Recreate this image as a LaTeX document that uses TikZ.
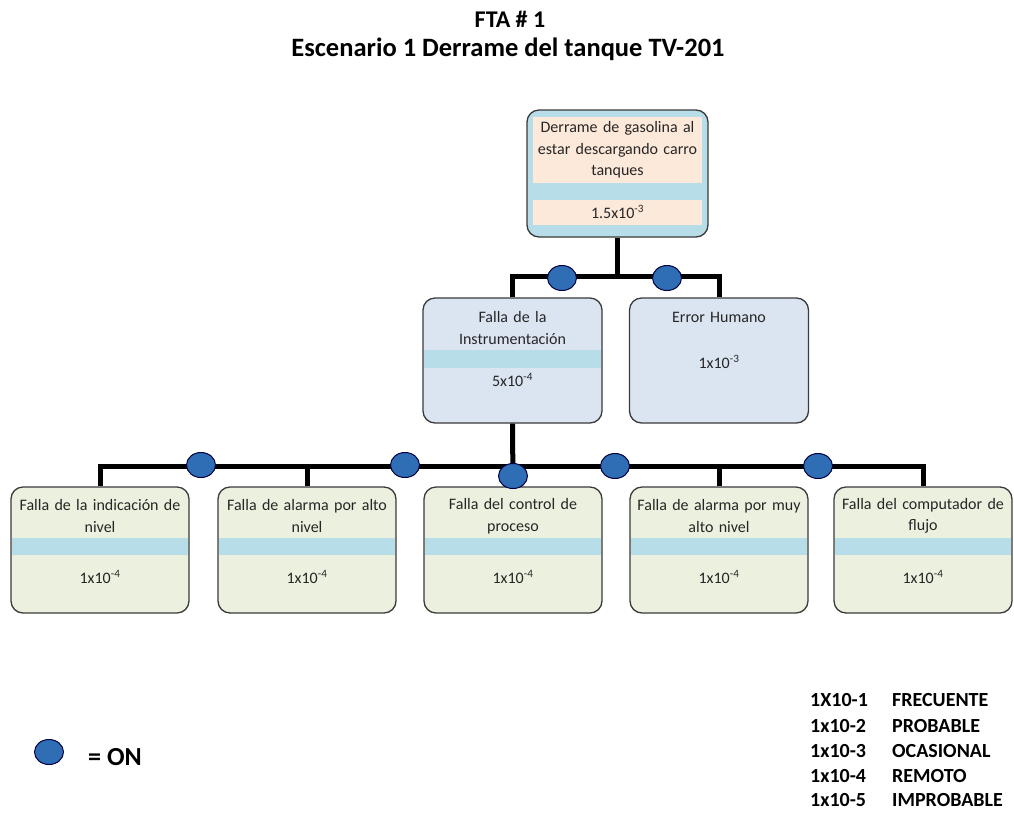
\documentclass[tikz,border=0pt]{standalone}
\usepackage{fontspec}
\setmainfont{Carlito}
\usetikzlibrary{calc}
\usetikzlibrary{shapes.geometric}

\definecolor{bandblue}{HTML}{B7DDE8}
\definecolor{lavblue}{HTML}{DBE5F1}
\definecolor{palegreen}{HTML}{EBF1DE}
\definecolor{peach}{HTML}{FDE9D9}
\definecolor{oncirc}{HTML}{2F6DB5}
\definecolor{boxline}{HTML}{3A3A3A}

\tikzset{
	evbox/.style={draw=boxline, line width=1.3pt, rounded corners=12pt, minimum width=178pt, minimum height=126pt, inner sep=0pt},
	band/.style={fill=bandblue},
	evtext/.style={text width=178pt, align=center, inner sep=0pt, text=black!85, font=\fontsize{16}{21.5}\selectfont},
	gate/.style={ellipse, draw=black!75!blue, line width=1pt, fill=oncirc, minimum width=29pt, minimum height=25pt, inner sep=0pt},
	link/.style={line width=5pt},
	legtext/.style={anchor=west, inner sep=0pt, font=\fontsize{20}{24}\bfseries\selectfont},
}

\begin{document}
\begin{tikzpicture}[x=1pt, y=-1pt]
		\useasboundingbox (0,0) rectangle (1014,815);
		% titles
		\node[font=\fontsize{24}{28}\bfseries\selectfont] (fta) at (510,19) {FTA \# 1};
		\node[font=\fontsize{26.5}{30}\bfseries\selectfont] (esc) at (508,49) {Escenario 1 Derrame del tanque TV-201};

		% top event
		\node[evbox, fill=bandblue, minimum width=181pt, minimum height=127pt] (top) at (617.5,173.5) {};
		\fill[peach] (533,117) rectangle (702,183);
		\fill[peach] (533,200) rectangle (702,225);
		\node[evtext] (toptxt) at (617.5,150) {Derrame de gasolina al\\estar descargando carro\\tanques};
		\node[evtext] (topval) at (617.5,212) {1.5x10\textsuperscript{-3}};

		% middle events
		\node[evbox, fill=lavblue, minimum width=179pt, minimum height=125pt] (instr) at (512.5,360.5) {};
		\fill[band] (423.7,350) rectangle (601.3,368);
		\node[evtext] (instrtxt) at (512.5,328) {Falla de la\\Instrumentación};
		\node[evtext] (instrval) at (512.5,380) {5x10\textsuperscript{-4}};
		\node[evbox, fill=lavblue, minimum width=179pt, minimum height=125pt] (human) at (719,360.5) {};
		\node[evtext] (humantxt) at (719,317) {Error Humano};
		\node[evtext] (humanval) at (719,362) {1x10\textsuperscript{-3}};

		% basic events
		\foreach \n/\cx/\ta/\tb in {b1/100/Falla de la indicación de/nivel,
				b2/307/Falla de alarma por alto/nivel,
				b3/513/Falla del control de/proceso,
				b4/719/Falla de alarma por muy/alto nivel,
				b5/923/Falla del computador de/flujo} {
			\node[evbox, fill=palegreen] (\n) at (\cx,550) {};
			\fill[band] (\cx-88.3,538) rectangle (\cx+88.3,555);
			\node[evtext] (\n txt) at (\cx,516) {\ta\\\tb};
			\node[evtext] (\n val) at (\cx,577) {1x10\textsuperscript{-4}};
		}

		% connectors
		\draw[link] (top.south) -- ++(0,40);
		\draw[link] (instr.north) -- ++(0,-21) -| (human.north);
		\draw[link] (instr.south) -- (b3.north);
		\draw[link] (b1.north) -- ++(0,-20) -| (b5.north);
		\draw[link] (b2.north) -- ++(0,-20);
		\draw[link] (b4.north) -- ++(0,-20);

		% gates
		\node[gate] (g1) at (562,278) {};
		\node[gate] (g2) at (667,278) {};
		\node[gate] (g3) at (201,465) {};
		\node[gate] (g4) at (405,465) {};
		\node[gate] (g5) at (513,476) {};
		\node[gate] (g6) at (615,466) {};
		\node[gate] (g7) at (818,466) {};

		% legends
		\node[gate] (legon) at (49,752) {};
		\node[legtext, font=\fontsize{26}{30}\bfseries\selectfont] (legontxt) at (88,757) {= ON};
		\node[legtext] (r1a) at (810,700) {1X10-1};
		\node[legtext] (r1b) at (892,700) {FRECUENTE};
		\node[legtext] (r2a) at (810,726) {1x10-2};
		\node[legtext] (r2b) at (892,726) {PROBABLE};
		\node[legtext] (r3a) at (810,751) {1x10-3};
		\node[legtext] (r3b) at (892,751) {OCASIONAL};
		\node[legtext] (r4a) at (810,776) {1x10-4};
		\node[legtext] (r4b) at (892,776) {REMOTO};
		\node[legtext] (r5a) at (810,800) {1x10-5};
		\node[legtext] (r5b) at (892,800) {IMPROBABLE};
	\end{tikzpicture}
\end{document}
